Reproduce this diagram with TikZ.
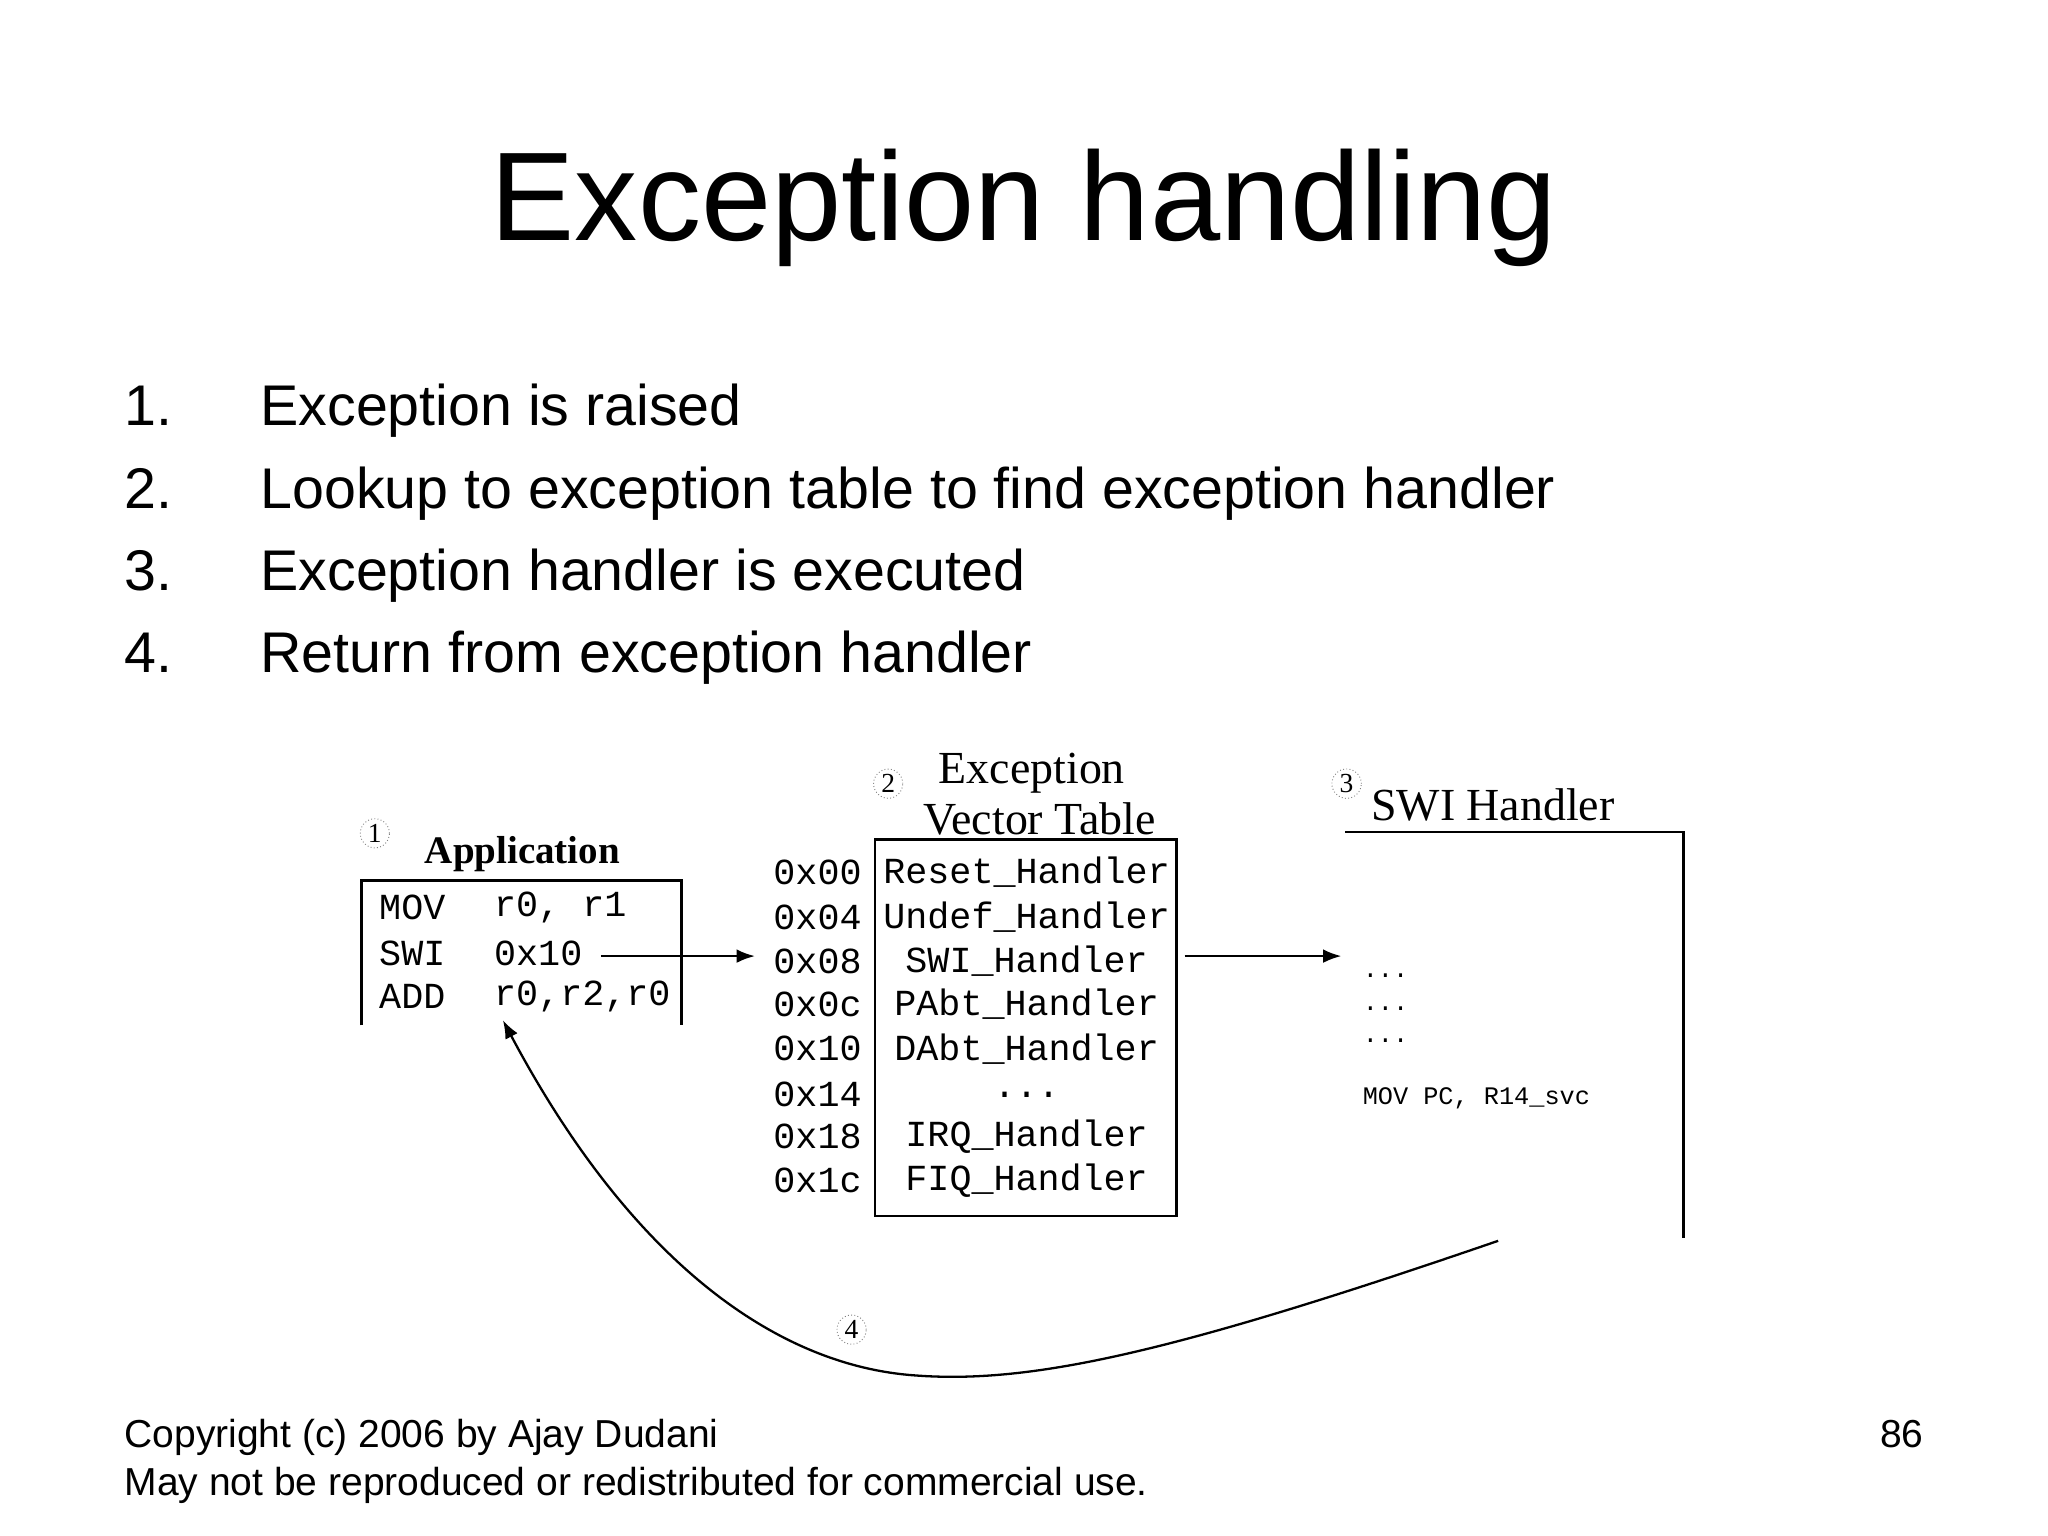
\documentclass[tikz,border=0pt]{standalone}
\usepackage{fontspec}
\setmainfont{Liberation Sans}
\newfontfamily\serifdg{Liberation Serif}
\newfontfamily\monodg{Liberation Mono}
\usetikzlibrary{arrows.meta}
\newcommand\tdotsdg{.{}.{}.}
\begin{document}
\begin{tikzpicture}[x=0.02cm,y=-0.02cm,
  mono/.style={font=\monodg\fontsize{16}{18}\selectfont, inner sep=0pt},
  dtitle/.style={font=\serifdg\fontsize{20}{22}\selectfont, inner sep=0pt},
  lst/.style={font=\fontsize{25}{30}\selectfont, anchor=base west, inner sep=0pt},
  foot/.style={font=\fontsize{17}{20}\selectfont, anchor=base west, inner sep=0pt},
  stepnum/.style={circle, draw=gray, densely dotted, inner sep=1pt, font=\serifdg\fontsize{12}{12}\selectfont},
  box/.style={line width=1.2pt},
  arr/.style={line width=1pt, -{Latex[length=8pt,width=6pt]}}]
\useasboundingbox (0,0) rectangle (1568,1176);
\node[font=\fontsize{55}{60}\selectfont, anchor=base] (title) at (784,184) {Exception handling};
\foreach \n/\t/\y in {1/Exception is raised/326, 2/Lookup to exception table to find exception handler/389, 3/Exception handler is executed/452, 4/Return from exception handler/515}{
  \node[lst] (n\n) at (95,\y) {\n.};
  \node[lst] (t\n) at (199,\y) {\t};
}
% Application
\node[stepnum] (s1) at (287,638) {1};
\node[inner sep=0pt, font=\serifdg\bfseries\fontsize{17}{20}\selectfont] (apptitle) at (400,654) {Application};
\draw[box] (277,785) -- (277,674) -- (522,674) -- (522,785);
\node[mono, anchor=west] (a1) at (290,695) {MOV};
\node[mono, anchor=west] (a1b) at (378,695) {r0, r1};
\node[mono, anchor=west] (a2) at (290,730) {SWI};
\node[mono, anchor=west] (a2b) at (378,730) {0x10};
\node[mono, anchor=west] (a3) at (290,763) {ADD};
\node[mono, anchor=west] (a3b) at (378,763) {r0,r2,r0};
\coordinate (appret) at (385,781);
% Vector table
\node[stepnum] (s2) at (680,600) {2};
\node[dtitle] (vt1) at (790,592) {Exception};
\node[dtitle] (vt2) at (796,627) {Vector Table};
\draw[box] (670,643) rectangle (901,931);
\foreach \a/\h/\y [count=\i] in {0x00/Reset\_Handler/668, 0x04/Undef\_Handler/702, 0x08/SWI\_Handler/736, 0x0c/PAbt\_Handler/769, 0x10/DAbt\_Handler/803, 0x14/\tdotsdg/838, 0x18/IRQ\_Handler/870, 0x1c/FIQ\_Handler/904}{
  \node[mono, anchor=east] (ad\i) at (660,\y) {\a};
  \node[mono] (h\i) at (786,\y) {\h};
}
% SWI handler
\node[stepnum] (s3) at (1031,600) {3};
\node[dtitle] (swititle) at (1143,616) {SWI Handler};
\draw[box] (1030,637) -- (1289,637) -- (1289,948);
\node[mono, anchor=west, font=\monodg\fontsize{11}{12}\selectfont] (d1) at (1043,747) {\tdotsdg};
\node[mono, anchor=west, font=\monodg\fontsize{11}{12}\selectfont] (d2) at (1043,772) {\tdotsdg};
\node[mono, anchor=west, font=\monodg\fontsize{11}{12}\selectfont] (d3) at (1043,797) {\tdotsdg};
\node[mono, anchor=west, font=\monodg\fontsize{11}{12}\selectfont] (ret) at (1043,841) {MOV PC, R14\_svc};
\coordinate (swiin) at (1027,732);
\coordinate (swiout) at (1147,950);
% arrows
\coordinate (aout) at (460,732);
\coordinate (vtin) at (578,732);
\coordinate (vtout) at (907,732);
\draw[arr] (aout) -- (vtin);
\draw[arr] (vtout) -- (swiin);
\draw[arr] (swiout) .. controls (900,1035) and (790,1060) .. (700,1053)
  .. controls (590,1045) and (480,960) .. (appret);
\node[stepnum] (s4) at (652,1018) {4};
% footer
\node[foot] (f1) at (95,1108) {Copyright (c) 2006 by Ajay Dudani};
\node[foot] (f2) at (95,1145) {May not be reproduced or redistributed for commercial use.};
\node[foot, anchor=base east] (pg) at (1473,1108) {86};
\end{tikzpicture}
\end{document}
